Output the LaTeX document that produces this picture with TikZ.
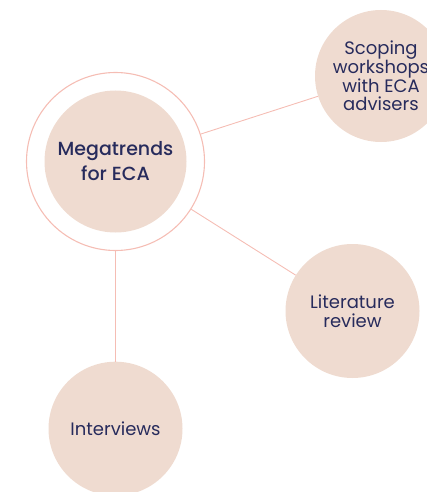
\documentclass[tikz,border=0pt]{standalone}
\usepackage{fontspec}
\setmainfont{Poppins}
\newfontfamily\trendfont{Poppins Medium}
\definecolor{trendfill}{HTML}{EFDBD0}
\definecolor{trendink}{HTML}{272B5C}
\definecolor{trendpink}{HTML}{F5BDB4}

\begin{document}
\begin{tikzpicture}[
  x=1pt,
  y=-1pt,
  bubble/.style={circle,fill=trendfill,text=trendink,inner sep=0pt,align=center,
    font=\fontsize{18}{18.8}\selectfont},
  hub/.style={bubble,minimum size=142pt,font=\trendfont\fontsize{19}{25}\selectfont},
  halo/.style={circle,draw=trendpink,line width=1.1pt,inner sep=0pt,minimum size=178pt},
  link/.style={draw=trendpink,line width=0.9pt}
]
  % Keep the frame of the original artwork; outer bubbles run off its edges.
  \useasboundingbox (0,0) rectangle (427,492);
  \clip (0,0) rectangle (427,492);

  % Central topic with its ring.
  \node[halo] (ring) at (115.5,161.5) {};
  \node[hub] (megatrends) at (115.5,161.5) {Megatrends\\for ECA};

  % Research methods around it.
  \node[bubble,minimum size=132pt] (scoping) at (381,76) {Scoping\\workshops\\with ECA\\advisers};
  \node[bubble,minimum size=134pt] (literature) at (352.5,311) {Literature\\review};
  \node[bubble,minimum size=134pt] (interviews) at (115.5,428.7) {Interviews};

  % Thin links from the ring to each method.
  \draw[link] (ring) -- (scoping);
  \draw[link] (ring) -- (literature);
  \draw[link] (ring) -- (interviews);
\end{tikzpicture}
\end{document}
